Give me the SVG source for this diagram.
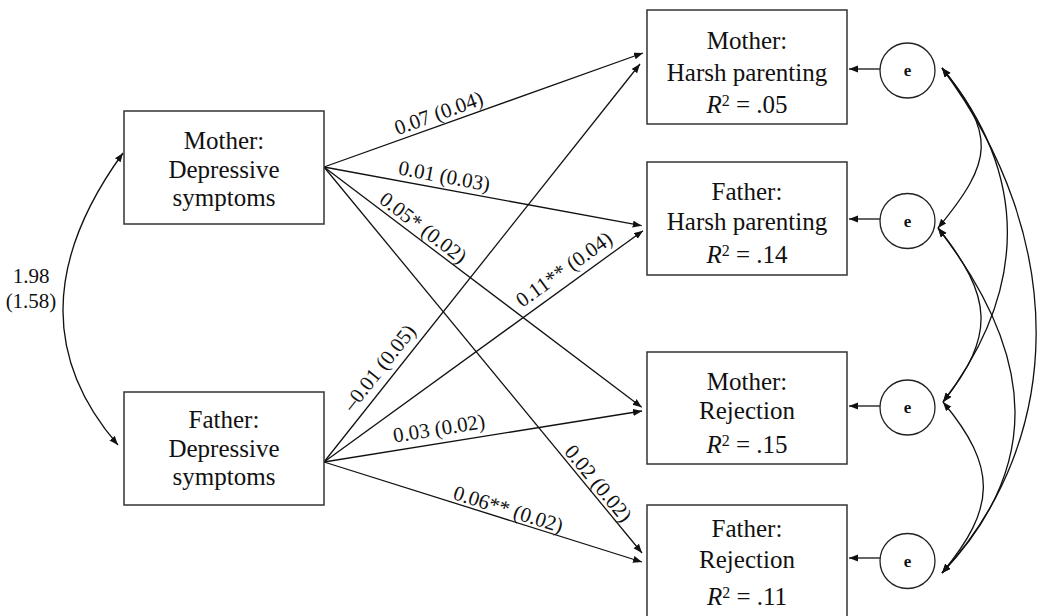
<svg xmlns="http://www.w3.org/2000/svg" width="1039" height="616" viewBox="0 0 1039 616">
<style>
text{font-family:"Liberation Serif","Times New Roman","DejaVu Serif",serif;fill:#111}
.bx{fill:#fff;stroke:#333;stroke-width:1.5}
.t{font-size:25px;text-anchor:middle}
.lb{font-size:21px;text-anchor:middle}
.e{font-size:17px;font-weight:bold;text-anchor:middle}
.c{fill:#fff;stroke:#222;stroke-width:1.3}
.ln{fill:none;stroke:#111;stroke-width:1.3;marker-end:url(#ah)}
.cv{fill:none;stroke:#111;stroke-width:1.3;marker-end:url(#ah);marker-start:url(#ah)}
</style>
<defs>
<marker id="ah" markerUnits="userSpaceOnUse" markerWidth="10" markerHeight="8" refX="9" refY="3.5" orient="auto-start-reverse" viewBox="0 0 10 8">
<path d="M0,0 L9,3.5 L0,7 z" fill="#111"/>
</marker>
</defs>
<rect width="1039" height="616" fill="#fff"/>

<g id="connectors">
<line class="ln" x1="324" y1="167" x2="643" y2="53"/>
<line class="ln" x1="324" y1="167" x2="641.7" y2="225.7"/>
<line class="ln" x1="324" y1="167" x2="641.7" y2="407.3"/>
<line class="ln" x1="324" y1="167" x2="642" y2="553"/>
<line class="ln" x1="324" y1="462" x2="640" y2="64"/>
<line class="ln" x1="324" y1="462" x2="643" y2="230.7"/>
<line class="ln" x1="324" y1="462" x2="642" y2="411"/>
<line class="ln" x1="324" y1="462" x2="642" y2="562"/>
<line class="ln" x1="880" y1="69" x2="849" y2="69"/>
<line class="ln" x1="880" y1="219" x2="849" y2="219"/>
<line class="ln" x1="880" y1="406" x2="849" y2="406"/>
<line class="ln" x1="880" y1="558" x2="849" y2="558"/>
<path class="cv" d="M123,153 Q5.5,315 118,445"/>
<path class="cv" d="M942,68 C996,135 994,160 938,228"/>
<path class="cv" d="M938,228 C993,297 996,335 943,402"/>
<path class="cv" d="M943,402 C998,468 996,508 942,573"/>
<path class="cv" d="M942,68 C1030,175 1028,290 943,402"/>
<path class="cv" d="M938,228 C1040,360 1040,470 942,573"/>
<path class="cv" d="M942,68 C1070,240 1065,440 942,573"/>
<text class="lb" transform="translate(438.7,113) rotate(-19.7)" y="7">0.07 (0.04)</text>
<text class="lb" transform="translate(444.3,176) rotate(10.6)" y="7">0.01 (0.03)</text>
<text class="lb" transform="translate(423.3,227.7) rotate(37.2)" y="7">0.05* (0.02)</text>
<text class="lb" transform="translate(564,269.3) rotate(-35.9)" y="7">0.11** (0.04)</text>
<text class="lb" transform="translate(379.3,367.7) rotate(-51.6)" y="7">–0.01 (0.05)</text>
<text class="lb" transform="translate(439,428.3) rotate(-9.1)" y="7">0.03 (0.02)</text>
<text class="lb" transform="translate(598.3,483.3) rotate(50.5)" y="7">0.02 (0.02)</text>
<text class="lb" transform="translate(508.3,509.3) rotate(17.5)" y="7">0.06** (0.02)</text>
<text class="lb" x="31" y="283">1.98</text>
<text class="lb" x="31" y="308">(1.58)</text>
</g>

<g id="mother-depressive">
<rect class="bx" x="124" y="111" width="200" height="113"/>
<text class="t" x="224" y="149">Mother:</text>
<text class="t" x="224" y="178">Depressive</text>
<text class="t" x="224" y="206">symptoms</text>
</g>
<g id="father-depressive">
<rect class="bx" x="124" y="392" width="200" height="113"/>
<text class="t" x="224" y="428">Father:</text>
<text class="t" x="224" y="457">Depressive</text>
<text class="t" x="224" y="485">symptoms</text>
</g>

<g id="mother-harsh">
<rect class="bx" x="647" y="10" width="200" height="114"/>
<text class="t" x="747" y="49">Mother:</text>
<text class="t" x="747" y="81">Harsh parenting</text>
<text class="t" x="747" y="113"><tspan font-style="italic">R</tspan><tspan font-size="16" dy="-7">2</tspan><tspan dy="7"> = .05</tspan></text>
</g>
<g id="father-harsh">
<rect class="bx" x="647" y="162" width="200" height="113"/>
<text class="t" x="747" y="200">Father:</text>
<text class="t" x="747" y="230">Harsh parenting</text>
<text class="t" x="747" y="263"><tspan font-style="italic">R</tspan><tspan font-size="16" dy="-7">2</tspan><tspan dy="7"> = .14</tspan></text>
</g>
<g id="mother-rejection">
<rect class="bx" x="647" y="352" width="200" height="112"/>
<text class="t" x="747" y="390">Mother:</text>
<text class="t" x="747" y="419">Rejection</text>
<text class="t" x="747" y="453"><tspan font-style="italic">R</tspan><tspan font-size="16" dy="-7">2</tspan><tspan dy="7"> = .15</tspan></text>
</g>
<g id="father-rejection">
<rect class="bx" x="647" y="505" width="200" height="116"/>
<text class="t" x="747" y="537">Father:</text>
<text class="t" x="747" y="568">Rejection</text>
<text class="t" x="747" y="605"><tspan font-style="italic">R</tspan><tspan font-size="16" dy="-7">2</tspan><tspan dy="7"> = .11</tspan></text>
</g>

<g id="e1"><circle class="c" cx="907.5" cy="70.5" r="27.5"/><text class="e" x="907.5" y="76">e</text></g>
<g id="e2"><circle class="c" cx="907.5" cy="221" r="27.5"/><text class="e" x="907.5" y="226.5">e</text></g>
<g id="e3"><circle class="c" cx="907.5" cy="407.5" r="27.5"/><text class="e" x="907.5" y="413">e</text></g>
<g id="e4"><circle class="c" cx="907.5" cy="561" r="27.5"/><text class="e" x="907.5" y="566.5">e</text></g>
</svg>
